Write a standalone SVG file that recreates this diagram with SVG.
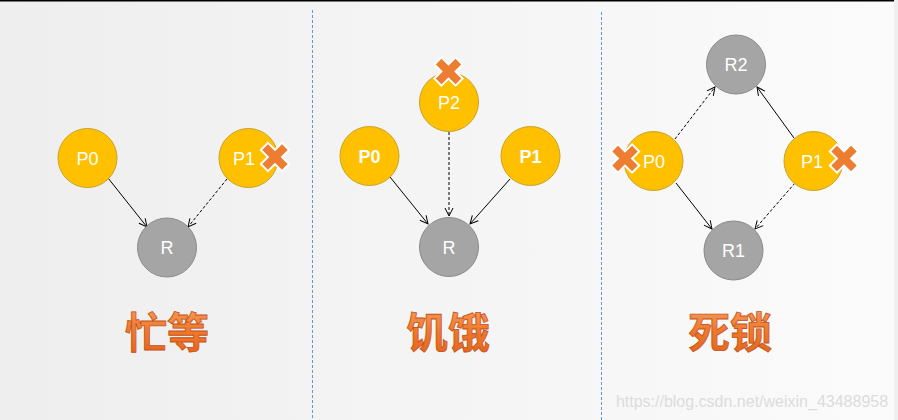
<svg xmlns="http://www.w3.org/2000/svg" width="898" height="420" viewBox="0 0 898 420">
<defs>
<linearGradient id="bg" x1="0" y1="0" x2="1" y2="0">
<stop offset="0" stop-color="#eeeeee"/>
<stop offset="1" stop-color="#fbfbfb"/>
</linearGradient>
<linearGradient id="tg" x1="0" y1="0" x2="0" y2="1">
<stop offset="0" stop-color="#f9a66a"/>
<stop offset="0.5" stop-color="#f07a2e"/>
<stop offset="1" stop-color="#e2601a"/>
</linearGradient>
<marker id="ah" viewBox="0 0 10 10" refX="9" refY="5" markerWidth="10" markerHeight="10" markerUnits="userSpaceOnUse" orient="auto">
<path d="M1,1 L9,5 L1,9" fill="none" stroke="#000" stroke-width="1"/>
</marker>
<polygon id="xm" points="-5,-15 5,-15 5,-5 15,-5 15,5 5,5 5,15 -5,15 -5,5 -15,5 -15,-5 -5,-5" transform="rotate(45)" fill="#ED7D31" stroke="#ffffff" stroke-width="2" stroke-linejoin="miter"/>
</defs>
<style>
.p{fill:#FFC000;stroke:#C9A227;stroke-width:1}
.r{fill:#A5A5A5;stroke:#8A8A8A;stroke-width:1}
.lbl{font-family:"Liberation Sans","Open Sans",sans-serif;font-size:18px;fill:#ffffff;text-anchor:middle}
.b{font-weight:bold}
.e{stroke:#000;stroke-width:1;fill:none;marker-end:url(#ah)}
.d{stroke-dasharray:3,2}
.t{font-family:"Noto Sans CJK SC",sans-serif;font-weight:bold;font-size:42px;fill:url(#tg);stroke:#c2531a;stroke-width:0.8;text-anchor:middle}
.sep{stroke:#5B9BD5;stroke-width:1;stroke-dasharray:3,2}
</style>
<rect x="0" y="0" width="898" height="420" fill="url(#bg)"/>
<rect x="894" y="0" width="4" height="420" fill="#efefef"/>
<rect x="0" y="0" width="894" height="1.5" fill="#000"/>
<line class="sep" x1="312.5" y1="10" x2="312.5" y2="420"/>
<line class="sep" x1="601.5" y1="12" x2="601.5" y2="420"/>

<g id="connectors">
<line class="e" x1="108" y1="178" x2="147" y2="227"/>
<line class="e d" x1="227" y1="179" x2="188" y2="227"/>
<line class="e" x1="390" y1="177" x2="428" y2="224"/>
<line class="e d" x1="449" y1="132" x2="449" y2="216"/>
<line class="e" x1="510" y1="179" x2="470" y2="224"/>
<line class="e d" x1="675" y1="139" x2="715" y2="87"/>
<line class="e" x1="794" y1="138" x2="757" y2="87"/>
<line class="e" x1="676" y1="183" x2="712" y2="229"/>
<line class="e d" x1="795" y1="183" x2="755" y2="229"/>
</g>

<g id="busy-P0"><circle class="p" cx="87.5" cy="158" r="29.5"/><text class="lbl" x="87.5" y="164.5">P0</text></g>
<g id="busy-P1"><circle class="p" cx="248.5" cy="158" r="29.5"/><text class="lbl" x="244" y="164.5">P1</text><use href="#xm" x="275" y="157"/></g>
<g id="busy-R"><circle class="r" cx="167" cy="247.5" r="29.5"/><text class="lbl" x="167" y="254">R</text></g>

<g id="starve-P2"><circle class="p" cx="449" cy="102" r="29.5"/><text class="lbl" x="449" y="108.5">P2</text><use href="#xm" x="448.5" y="71.5"/></g>
<g id="starve-P0"><circle class="p" cx="369.5" cy="156" r="29.5"/><text class="lbl b" x="369.5" y="162.5">P0</text></g>
<g id="starve-P1"><circle class="p" cx="530.5" cy="156" r="29.5"/><text class="lbl b" x="530.5" y="162.5">P1</text></g>
<g id="starve-R"><circle class="r" cx="449" cy="247" r="29.5"/><text class="lbl" x="449" y="253.5">R</text></g>

<g id="dead-R2"><circle class="r" cx="736" cy="64.5" r="29.5"/><text class="lbl" x="736" y="71">R2</text></g>
<g id="dead-P0"><circle class="p" cx="653.5" cy="161" r="29.5"/><text class="lbl" x="654" y="167.5">P0</text><use href="#xm" x="625" y="158.5"/></g>
<g id="dead-P1"><circle class="p" cx="813.5" cy="161" r="29.5"/><text class="lbl" x="812" y="167.5">P1</text><use href="#xm" x="844" y="158.5"/></g>
<g id="dead-R1"><circle class="r" cx="733.5" cy="250.5" r="29.5"/><text class="lbl" x="733.5" y="257">R1</text></g>

<text class="t" x="167" y="348">忙等</text>
<text class="t" x="448" y="348">饥饿</text>
<text class="t" x="730" y="348">死锁</text>

<text x="752" y="407" font-family="Liberation Sans, Arial, sans-serif" font-size="16" fill="#dcdcdc" text-anchor="middle">https://blog.csdn.net/weixin_43488958</text>
</svg>
